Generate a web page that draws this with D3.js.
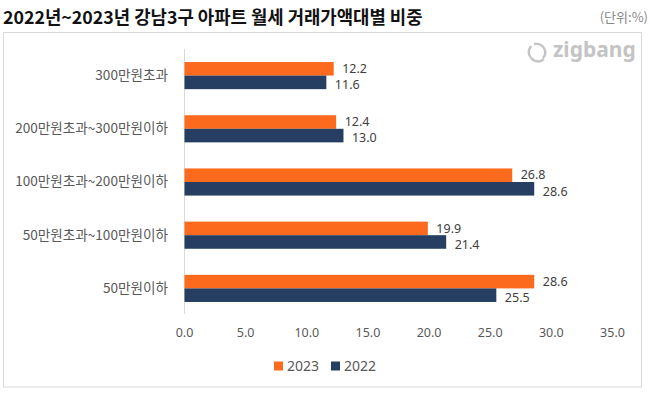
<!DOCTYPE html>
<html><head><meta charset="utf-8">
<script src="https://cdn.jsdelivr.net/npm/d3@7"></script>
<style>
body{margin:0;background:#fff;}
svg{display:block;font-family:"Noto Sans","Noto Sans CJK KR",sans-serif;}
</style></head>
<body><svg id="c" width="650" height="393"></svg>
<script>
const categories = ["300만원초과","200만원초과~300만원이하","100만원초과~200만원이하","50만원초과~100만원이하","50만원이하"];
const series = ["2023","2022"];
const values2023 = [12.2, 12.4, 26.8, 19.9, 28.6];
const values2022 = [11.6, 13.0, 28.6, 21.4, 25.5];
const xTicks = [0,5,10,15,20,25,30,35];
const colors = {"2023":"#FC6A1E","2022":"#253E62"};

const svg = d3.select("#c");
const kr = '"Noto Sans CJK KR","Noto Sans",sans-serif';

// title
svg.append("text").attr("x",3).attr("y",24).attr("font-size",17.8).attr("font-weight","bold")
  .attr("font-family",kr).attr("fill","#111").text("2022년~2023년 강남3구 아파트 월세 거래가액대별 비중");
svg.append("text").attr("x",648).attr("y",22).attr("text-anchor","end").attr("font-size",13)
  .attr("font-family",kr).attr("fill","#888").text("(단위:%)");

// frame
svg.append("rect").attr("x",3.5).attr("y",32.5).attr("width",638).attr("height",354.5)
  .attr("fill","none").attr("stroke","#d9d9d9").attr("stroke-width",1);

// logo
const logo = svg.append("g").attr("fill","none").attr("stroke","#c4c4c4").attr("stroke-width",2.4);
logo.append("path").attr("d","M531,46 q-5,7 1,13 q6,5 12,0 M534,44 q7,-1 10,4 q3,6 -1,10");
svg.append("text").attr("x",553).attr("y",57).attr("font-size",21).attr("font-weight","bold")
  .attr("fill","#c4c4c4").attr("font-family",'"Noto Sans",sans-serif').text("zigbang");

const x = d3.scaleLinear().domain([0,35]).range([184,612]);
const y = d3.scaleBand().domain(categories).range([49,315]).paddingInner(0.49).paddingOuter(0.245);
const y1 = d3.scaleBand().domain(series).range([0,y.bandwidth()]);

// x axis labels
const xa = svg.append("g").attr("transform","translate(0,318)")
  .call(d3.axisBottom(x).tickValues(xTicks).tickFormat(d3.format(".1f")).tickSize(0).tickPadding(10));
xa.select(".domain").remove();
xa.selectAll("text").attr("font-size",12.5).attr("fill","#595959").attr("font-family",'"Noto Sans",sans-serif');

// y axis
const ya = svg.append("g").attr("transform","translate(184,0)")
  .call(d3.axisLeft(y).tickSize(0).tickPadding(16));
ya.select(".domain").attr("stroke","#d9d9d9").attr("d","M0.5,49V314");
ya.selectAll("text").attr("font-size",13.6).attr("fill","#595959").attr("font-family",kr);

const data = categories.map((c,i)=>({cat:c, vals:[{s:"2023",v:values2023[i]},{s:"2022",v:values2022[i]}]}));
const g = svg.append("g").selectAll("g").data(data).join("g")
  .attr("transform",d=>`translate(0,${y(d.cat)})`);
g.selectAll("rect").data(d=>d.vals).join("rect")
  .attr("x",x(0)+0.5).attr("y",d=>y1(d.s)).attr("height",y1.bandwidth())
  .attr("width",d=>x(d.v)-x(0)).attr("fill",d=>colors[d.s]);
g.selectAll("text").data(d=>d.vals).join("text")
  .attr("x",d=>x(d.v)+9).attr("y",d=>y1(d.s)+y1.bandwidth()/2+(d.s==="2023"?4.2:6.8))
  .attr("font-size",12.5).attr("fill","#404040").attr("font-family",'"Noto Sans",sans-serif')
  .text(d=>d3.format(".1f")(d.v));

// legend
const lg = svg.append("g").attr("transform","translate(274,366)");
const items = lg.selectAll("g").data(series).join("g").attr("transform",(d,i)=>`translate(${i*57},0)`);
items.append("rect").attr("x",0).attr("y",-4.5).attr("width",9).attr("height",9).attr("fill",d=>colors[d]);
items.append("text").attr("x",13).attr("y",5).attr("font-size",14).attr("fill","#595959")
  .attr("font-family",'"Noto Sans",sans-serif').text(d=>d);
</script></body></html>
